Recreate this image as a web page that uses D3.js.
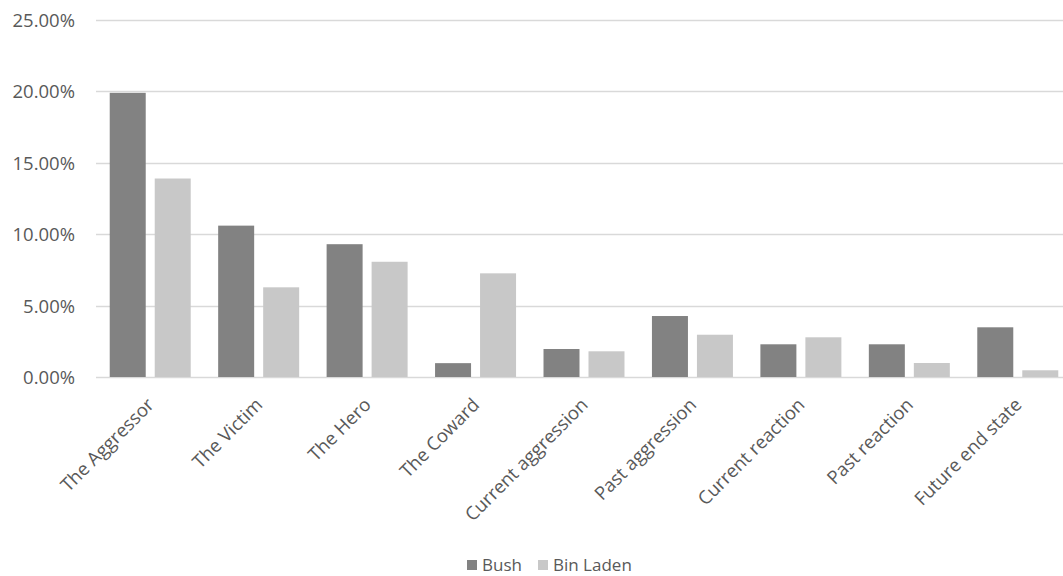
<!DOCTYPE html>
<html>
<head>
<meta charset="utf-8">
<script src="https://cdn.jsdelivr.net/npm/d3@7"></script>
<style>
  html, body { margin: 0; padding: 0; background: #fff; overflow: hidden; }
  svg { display: block; font-family: "Open Sans", "Liberation Sans", sans-serif; }
</style>
</head>
<body>
<svg id="chart" width="1063" height="576"></svg>
<script>
// Role shares by actor
const categories = ["The Aggressor", "The Victim", "The Hero", "The Coward", "Current aggression",
  "Past aggression", "Current reaction", "Past reaction", "Future end state"];
const bushValues = [0.199, 0.106, 0.093, 0.0097, 0.0196, 0.0427, 0.0229, 0.0229, 0.0348];
const binLadenValues = [0.139, 0.0628, 0.0807, 0.0726, 0.018, 0.0296, 0.0278, 0.0098, 0.0047];
const seriesNames = ["Bush", "Bin Laden"];
const seriesColors = ["#828282", "#c8c8c8"];
const yTicks = [0, 0.05, 0.10, 0.15, 0.20, 0.25];

const svg = d3.select("#chart");
const plotLeft = 96, plotRight = 1072, plotTop = 20, plotBottom = 377;
const labelColor = "#595959";

const x = d3.scaleBand().domain(categories).range([plotLeft, plotRight]).paddingInner(0).paddingOuter(0);
const xs = d3.scaleBand().domain(seriesNames).range([0, x.bandwidth()]).paddingInner(0.2).paddingOuter(0.305);
const y = d3.scaleLinear().domain([0, 0.25]).range([plotBottom, plotTop]);

// Gridlines
svg.append("g").selectAll("line").data(yTicks).join("line")
  .attr("x1", plotLeft).attr("x2", plotRight)
  .attr("y1", d => Math.round(y(d)) + 0.5).attr("y2", d => Math.round(y(d)) + 0.5)
  .attr("stroke", "#d9d9d9").attr("stroke-width", 1.3);

// Y-axis labels
const yAxis = d3.axisLeft(y).tickValues(yTicks).tickFormat(d3.format(".2%")).tickSize(0).tickPadding(0);
const yg = svg.append("g").attr("transform", "translate(75,0)").call(yAxis)
  .attr("font-family", null).attr("font-size", null);
yg.select(".domain").remove();
yg.selectAll("text").attr("fill", labelColor).attr("font-size", 18.5).attr("dy", "0.35em");

// Bars
const rows = categories.map((c, i) => ({ cat: c, vals: [bushValues[i], binLadenValues[i]] }));
const groups = svg.append("g").selectAll("g").data(rows).join("g")
  .attr("transform", d => `translate(${x(d.cat)},0)`);
groups.selectAll("rect").data(d => d.vals.map((v, j) => ({ v, s: seriesNames[j], j })))
  .join("rect")
  .attr("x", d => xs(d.s))
  .attr("width", xs.bandwidth())
  .attr("y", d => y(d.v))
  .attr("height", d => plotBottom - y(d.v))
  .attr("fill", d => seriesColors[d.j]);

// Category labels, rotated
svg.append("g").selectAll("text").data(categories).join("text")
  .attr("transform", d => `translate(${x(d) + x.bandwidth() / 2 + 5},${plotBottom + 29}) rotate(-45)`)
  .attr("text-anchor", "end")
  .attr("fill", labelColor).attr("font-size", 18.5)
  .text(d => d);

// Legend
const legend = svg.append("g").attr("transform", "translate(467,565)");
const legendX = [0, 71];
seriesNames.forEach((s, i) => {
  const g = legend.append("g").attr("transform", `translate(${legendX[i]},0)`);
  g.append("rect").attr("x", 0).attr("y", -5).attr("width", 10).attr("height", 10).attr("fill", seriesColors[i]);
  g.append("text").attr("x", 15).attr("y", 0).attr("dy", "0.35em")
    .attr("fill", labelColor).attr("font-size", 17).text(s);
});
</script>
</body>
</html>
